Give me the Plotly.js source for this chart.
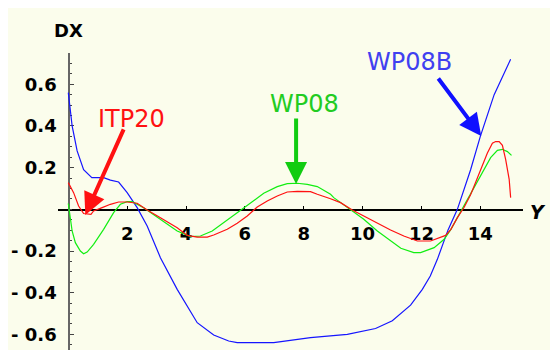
<!DOCTYPE html>
<html>
<head>
<meta charset="utf-8">
<script src="https://cdn.plot.ly/plotly-3.0.1.min.js"></script>
<style>
  body { margin: 0; background: #fff; }
  #chart { position: absolute; left: 8px; top: 8px; width: 542px; height: 342px; }
</style>
</head>
<body>
<div id="chart"></div>
<script>
// WP08B (blue)
const xWP08B = [0, 0.13, 0.3, 0.41, 0.52, 0.8, 1.2, 1.43, 1.71, 2.0, 2.34, 2.68, 3.13, 3.7, 4.04, 4.38, 4.94, 5.45, 5.74, 6.98, 8.23, 9.48, 10.44, 11.01, 11.63, 12.03, 12.3, 12.54, 12.9, 13.22, 13.67, 14.0, 14.47, 15.03];
const yWP08B = [0.56, 0.40, 0.28, 0.23, 0.19, 0.152, 0.152, 0.14, 0.131, 0.08, 0.008, -0.08, -0.232, -0.384, -0.464, -0.544, -0.603, -0.632, -0.64, -0.64, -0.616, -0.6, -0.572, -0.535, -0.46, -0.384, -0.32, -0.24, -0.1, 0, 0.19, 0.35, 0.55, 0.72];

// ITP20 (red)
const xITP20 = [0, 0.18, 0.35, 0.52, 0.77, 0.86, 1.15, 1.43, 1.71, 2.0, 2.34, 2.68, 3.13, 3.7, 4.04, 4.38, 4.72, 4.94, 5.4, 5.74, 6.08, 6.42, 6.76, 7.1, 7.44, 7.78, 8.23, 8.46, 8.91, 9.25, 9.65, 10.04, 10.5, 10.95, 11.4, 11.86, 12.31, 12.6, 12.82, 13.0, 13.22, 13.45, 13.67, 13.79, 14.01, 14.24, 14.41, 14.52, 14.64, 14.75, 14.86, 14.98, 15.03];
const yITP20 = [0.128, 0.08, 0.016, -0.02, -0.024, -0.008, 0.008, 0.024, 0.035, 0.035, 0.029, -0.003, -0.04, -0.088, -0.125, -0.133, -0.133, -0.123, -0.096, -0.067, -0.032, 0.011, 0.04, 0.064, 0.083, 0.086, 0.085, 0.072, 0.051, 0.032, -0.003, -0.032, -0.069, -0.099, -0.128, -0.152, -0.152, -0.136, -0.125, -0.096, -0.04, 0.01, 0.07, 0.112, 0.19, 0.27, 0.317, 0.325, 0.325, 0.307, 0.24, 0.144, 0.056];

// WP08 (green)
const xWP08 = [0, 0.13, 0.24, 0.41, 0.52, 0.64, 0.86, 1.2, 1.54, 1.77, 2.0, 2.17, 2.56, 3.13, 3.7, 4.15, 4.49, 4.89, 5.28, 5.74, 6.19, 6.64, 7.1, 7.44, 7.78, 8.12, 8.46, 8.91, 9.02, 9.59, 10.04, 10.5, 10.95, 11.3, 11.74, 11.97, 12.43, 12.77, 13.0, 13.22, 13.45, 13.67, 14.01, 14.35, 14.58, 14.75, 14.92, 15.06];
const yWP08 = [0.028, -0.104, -0.16, -0.2, -0.213, -0.205, -0.168, -0.096, -0.016, 0.024, 0.037, 0.037, 0.008, -0.048, -0.104, -0.131, -0.128, -0.104, -0.064, -0.016, 0.032, 0.077, 0.109, 0.123, 0.125, 0.12, 0.109, 0.072, 0.056, -0.003, -0.048, -0.104, -0.152, -0.187, -0.208, -0.208, -0.184, -0.144, -0.096, -0.04, 0.02, 0.08, 0.16, 0.248, 0.283, 0.288, 0.277, 0.259];

const xTickVals = [2, 4, 6, 8, 10, 12, 14];
const yTickVals = [-0.6, -0.4, -0.2, 0.2, 0.4, 0.6];
const yTickText = ['- 0.6', '- 0.4', '- 0.2', '0.2', '0.4', '0.6'];

const labelFont = 'DejaVu Sans, sans-serif';
const noteFont = 'DejaVu Sans, Verdana, sans-serif';

let traces = [
    { x: xWP08B, y: yWP08B, type: 'scatter', mode: 'lines', line: { color: '#1515ff', width: 1.2 } },
    { x: xWP08, y: yWP08, type: 'scatter', mode: 'lines', line: { color: '#11ee11', width: 1.2 } },
    { x: xITP20, y: yITP20, type: 'scatter', mode: 'lines', line: { color: '#ff1111', width: 1.2 } }
];

// arrows (text '' so only the arrow is drawn)
function arrow(x, y, ax, ay, color) {
    return { x: x, y: y, ax: ax, ay: ay, text: '', showarrow: true, arrowhead: 2, arrowsize: 1.1, arrowwidth: 4, arrowcolor: color };
}
function label(x, y, text, color) {
    return { x: x, y: y, text: text, showarrow: false, font: { family: noteFont, size: 24, color: color } };
}

let layout = {
    width: 542,
    height: 342,
    margin: { l: 49.7, r: 27.3, t: 45, b: 0 },
    paper_bgcolor: '#fbfdec',
    plot_bgcolor: '#fbfdec',
    showlegend: false,
    xaxis: {
        range: [-0.35, 15.45],
        anchor: 'free',
        position: 0.4737,
        layer: 'below traces',
        showline: true,
        linecolor: '#000',
        linewidth: 1.3,
        showgrid: false,
        zeroline: false,
        ticks: 'inside',
        ticklen: 3,
        tickcolor: '#000',
        tickmode: 'array',
        tickvals: xTickVals,
        ticklabelstandoff: 8,
        tickfont: { family: labelFont, size: 18, color: '#000', weight: 'bold' }
    },
    yaxis: {
        range: [-0.675, 0.75],
        anchor: 'free',
        position: 0.02215,
        layer: 'below traces',
        showline: true,
        linecolor: '#666',
        linewidth: 1.5,
        showgrid: false,
        zeroline: false,
        ticks: 'inside',
        ticklen: 4,
        tickcolor: '#444',
        tickmode: 'array',
        tickvals: yTickVals,
        ticktext: yTickText,
        ticklabelstandoff: 8,
        tickfont: { family: labelFont, size: 18, color: '#000', weight: 'bold' },
        minor: { tickmode: 'linear', tick0: 0, dtick: 0.05, ticks: 'inside', ticklen: 2.5, tickcolor: '#444', showgrid: false }
    },
    annotations: [
        { xref: 'paper', yref: 'paper', x: 0.0232, y: 1.077, xanchor: 'center', yanchor: 'middle', text: 'DX', showarrow: false, font: { family: labelFont, size: 18, color: '#000', weight: 'bold' } },
        { xref: 'paper', yref: 'paper', x: 1.054, y: 0.466, xanchor: 'right', yanchor: 'middle', text: 'Y', showarrow: false, font: { family: labelFont, size: 19, color: '#000', weight: 'bold', style: 'italic' } },
        label(2.14, 0.433, 'ITP20', '#ff1111'),
        label(8.02, 0.505, 'WP08', '#22cc22'),
        label(11.59, 0.707, 'WP08B', '#4040f0'),
        arrow(0.578, -0.027, 39, -87, '#ff1111'),
        arrow(7.74, 0.121, 0, -67, '#11cc11'),
        arrow(14.03, 0.352, -44, -59, '#1010ff')
    ]
};

Plotly.newPlot('chart', traces, layout, { displayModeBar: false, staticPlot: true });
</script>
</body>
</html>
